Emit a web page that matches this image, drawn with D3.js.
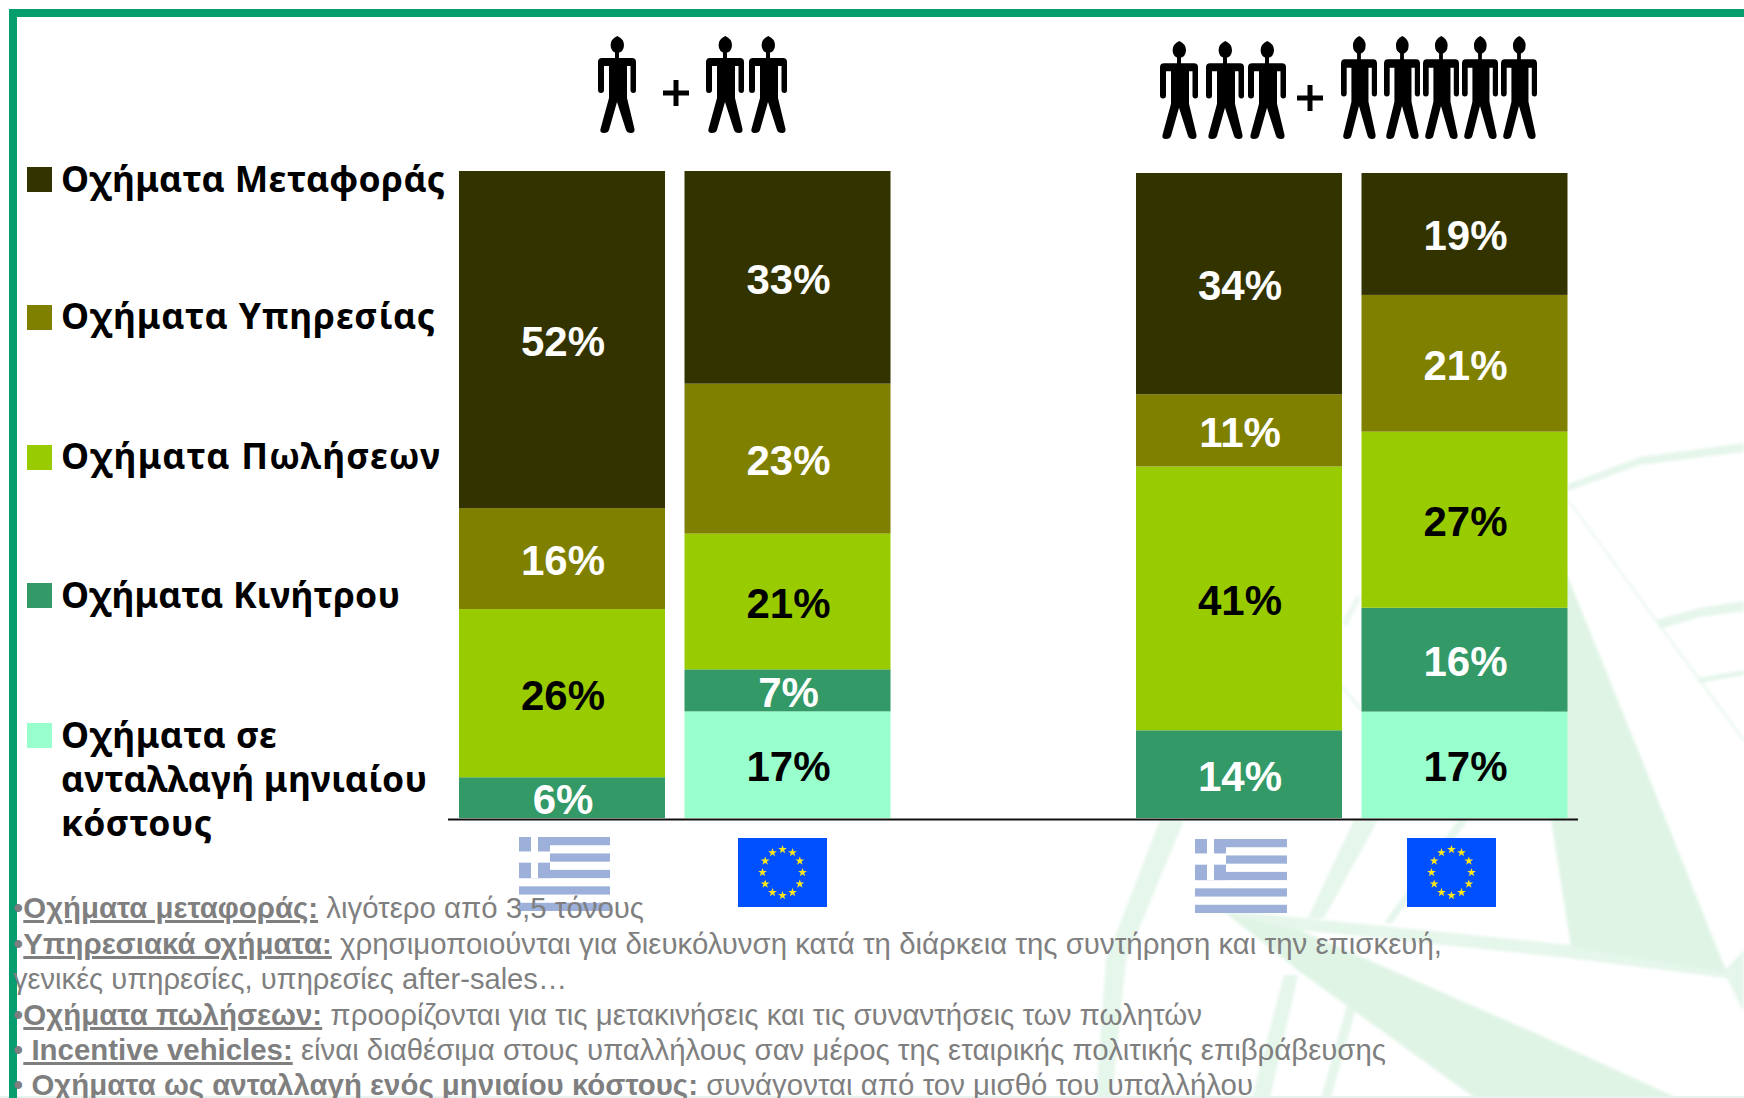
<!DOCTYPE html>
<html lang="el">
<head>
<meta charset="utf-8">
<title>Chart</title>
<script src="https://cdn.jsdelivr.net/npm/d3@7/dist/d3.min.js"></script>
<style>
html,body{margin:0;padding:0;background:#fff;overflow:hidden}
svg{display:block}
.foot{font-family:"Liberation Sans",Arial,sans-serif;font-size:30px;fill:#7f7f7f}
.foot .b{font-weight:bold;text-decoration:underline;text-decoration-thickness:3px}
.leg{font-family:"Noto Sans",sans-serif;font-weight:700;font-size:35.5px;fill:#000}
.val{font-family:"Liberation Sans",Arial,sans-serif;font-weight:700;font-size:42px;text-anchor:middle}
</style>
</head>
<body>
<script>
// ---- data ----
const groups = ["small", "large"];
const regions = ["GR", "EU"];
const transport = [52.1, 32.9, 34.3, 18.9];
const service   = [15.6, 23.2, 11.2, 21.2];
const sales     = [26.0, 21.0, 40.9, 27.3];
const incentive = [ 6.3,  6.5, 13.6, 16.1];
const exchange  = [ 0,   16.5,  0,   16.5];
const seriesKeys = ["transport", "service", "sales", "incentive", "exchange"];
const seriesValues = {transport, service, sales, incentive, exchange};
const seriesColors = ["#333300", "#808000", "#99cc00", "#339966", "#99ffcc"];
const labelColors  = ["#fff", "#fff", "#000", "#fff", "#000"];
const legendLines = [
  ["Οχήματα Μεταφοράς"],
  ["Οχήματα Υπηρεσίας"],
  ["Οχήματα Πωλήσεων"],
  ["Οχήματα Κινήτρου"],
  ["Οχήματα σε", "ανταλλαγή μηνιαίου", "κόστους"]
];
const footLines = [
  {bullet:"•", bold:"Οχήματα μεταφοράς:", rest:" λιγότερο από 3,5 τόνους"},
  {bullet:"•", bold:"Υπηρεσιακά οχήματα:", rest:" χρησιμοποιούνται για διευκόλυνση κατά τη διάρκεια της συντήρηση και την επισκευή,"},
  {bullet:"", bold:"", rest:"γενικές υπηρεσίες, υπηρεσίες after-sales…"},
  {bullet:"•", bold:"Οχήματα πωλήσεων:", rest:" προορίζονται για τις μετακινήσεις και τις συναντήσεις των πωλητών"},
  {bullet:"•", bold:" Incentive vehicles:", rest:" είναι διαθέσιμα στους υπαλλήλους σαν μέρος της εταιρικής πολιτικής επιβράβευσης"},
  {bullet:"•", bold:" Οχήματα ως ανταλλαγή ενός μηνιαίου κόστους:", rest:" συνάγονται από τον μισθό του υπαλλήλου", noUnderline:true}
];

// ---- page ----
const W = 1744, H = 1098;
const svg = d3.select("body").append("svg").attr("width", W).attr("height", H).attr("viewBox", [0,0,W,H]);
svg.append("rect").attr("width", W).attr("height", H).attr("fill", "#fff");
const defs = svg.append("defs");
defs.append("filter").attr("id","soft").attr("x","-5%").attr("y","-5%").attr("width","110%").attr("height","110%")
  .append("feGaussianBlur").attr("stdDeviation",1.4);
defs.append("filter").attr("id","softFlag").attr("x","-5%").attr("y","-5%").attr("width","110%").attr("height","110%")
  .append("feGaussianBlur").attr("stdDeviation",0.7);
defs.append("filter").attr("id","softFig").attr("x","-5%").attr("y","-5%").attr("width","110%").attr("height","110%")
  .append("feGaussianBlur").attr("stdDeviation",0.5);

// faint background emblem
const emblem = svg.append("g").attr("filter","url(#soft)").attr("stroke","none");
const wedges = [
  [[1530,480],[1568,577],[1642,760],[1727,973],[1571,947],[1551,820]],
  [[1223,911],[1300,930],[1544,1037],[1677,1098],[1475,1098],[1300,972]]
];
const ribs = [
  [[1223,910],[1571,945],[1727,968],[1744,950],[1744,1013],[1727,978],[1560,957],[1300,930]],
  [[1160,820],[1184,820],[1126,960],[1112,1098],[1096,1098],[1106,960]],
  [[1354,820],[1378,820],[1324,918],[1308,918]],
  [[1284,975],[1298,975],[1270,1098],[1252,1098]],
  [[1458,820],[1468,820],[1392,923],[1384,923]],
  [[1347,1005],[1357,1005],[1331,1098],[1321,1098]],
  [[1568,484],[1640,457],[1744,443],[1744,452],[1640,465],[1568,491]],
  [[1656,620],[1700,608],[1744,601],[1744,611],[1700,617],[1660,629]],
  [[1697,678],[1744,670],[1744,675],[1700,683]]
];
const hairlines = [
  [[1568,498],[1744,738],[1744,743],[1568,502]],
  [[1342,622],[1356,596],[1362,596],[1346,628]],
  [[1342,684],[1362,708],[1362,713],[1342,689]]
];
const drawPolys = (data, fill) => emblem.append("g").attr("fill",fill).selectAll("path").data(data).join("path")
  .attr("d", d => "M" + d.join("L") + "Z");
drawPolys(hairlines, "#edf8f1");
drawPolys(ribs, "#e5f6eb");
drawPolys(wedges, "#e0f4e6");
svg.append("rect").attr("x",0).attr("y",1096).attr("width",W).attr("height",2).attr("fill","#e6f3ee");

// frame
const frameColor = "#069e6e";
svg.append("rect").attr("x",9).attr("y",9).attr("width",W-9).attr("height",8).attr("fill",frameColor);
svg.append("rect").attr("x",9).attr("y",9).attr("width",8).attr("height",H-9).attr("fill",frameColor);

// scales
const x0 = d3.scaleBand().domain(groups).range([459,1567.5]).paddingInner(1-431.5/677);
const x1 = d3.scaleBand().domain(regions).range([0,x0.bandwidth()]).paddingInner(19.5/225.5);
const yScales = {
  small: d3.scaleLinear().domain([0,1]).range([818,171]),
  large: d3.scaleLinear().domain([0,1]).range([818,173])
};
const barRows = d3.cross(groups, regions).map(([g,r],i) => {
  const row = {group:g, region:r};
  seriesKeys.forEach(k => row[k] = seriesValues[k][i]);
  return row;
});
const stack = d3.stack().keys(seriesKeys.slice().reverse()).offset(d3.stackOffsetExpand);
const stacked = stack(barRows);
const colorOf = d3.scaleOrdinal().domain(seriesKeys).range(seriesColors);
const labelOf = d3.scaleOrdinal().domain(seriesKeys).range(labelColors);

// flags sit under the footnote text
const flagBlue = "#9cb0d9";
function greekFlag(x, y, w, h){
  const g = svg.append("g").attr("transform",`translate(${x},${y})`).attr("filter","url(#softFlag)");
  const s = h/9;
  d3.range(0,9,2).forEach(i => g.append("rect").attr("y",i*s).attr("width",w).attr("height",s).attr("fill",flagBlue));
  g.append("rect").attr("width",31).attr("height",5*s).attr("fill",flagBlue);
  g.append("rect").attr("x",12).attr("width",7).attr("height",5*s).attr("fill","#fff");
  g.append("rect").attr("y",2*s-2).attr("width",31).attr("height",s+3).attr("fill","#fff");
}
function euFlag(x, y, w, h){
  const g = svg.append("g").attr("transform",`translate(${x},${y})`);
  g.append("rect").attr("width",w).attr("height",h).attr("fill","#0050ff");
  const star = d3.symbol().type(d3.symbolStar).size(24)();
  d3.range(12).forEach(i => {
    const a = i*Math.PI/6;
    g.append("path").attr("d",star).attr("fill","#ffe81a")
      .attr("transform",`translate(${w/2+20*Math.sin(a)},${h/2-23*Math.cos(a)})`);
  });
}
greekFlag(519,837,91,74);
greekFlag(1195,839,92,74);
euFlag(738,838,89,69);
euFlag(1407,838,89,69);

// bars
const layers = svg.append("g").selectAll("g").data(stacked).join("g").attr("fill", s => colorOf(s.key));
layers.selectAll("rect").data(s => s.filter(d => d[1] > d[0])).join("rect")
  .attr("x", d => x0(d.data.group) + x1(d.data.region))
  .attr("width", x1.bandwidth())
  .attr("y", d => yScales[d.data.group](d[1]))
  .attr("height", d => yScales[d.data.group](d[0]) - yScales[d.data.group](d[1]));
layers.selectAll("text").data(s => s.filter(d => d[1] > d[0]).map(d => Object.assign(d,{key:s.key}))).join("text")
  .attr("class","val")
  .attr("fill", d => labelOf(d.key))
  .attr("x", d => x0(d.data.group) + x1(d.data.region) + x1.bandwidth()/2 + 1)
  .attr("y", d => (yScales[d.data.group](d[0]) + yScales[d.data.group](d[1]))/2 + 16.5)
  .text(d => Math.round(d.data[d.key]) + "%");

// baseline
svg.append("line").attr("x1",448).attr("x2",1578).attr("y1",819.5).attr("y2",819.5).attr("stroke","#111").attr("stroke-width",2);

// legend
const legendSwatchY = [167,305,445,583,723];
const legendBaselines = [[192],[329],[469],[608],[748,792,836]];
const legendEnds = [[445],[435],[440],[400],[277,427,212]];
seriesKeys.forEach((k,i) => {
  svg.append("rect").attr("x",27).attr("y",legendSwatchY[i]).attr("width",25).attr("height",25).attr("fill",colorOf(k));
  legendLines[i].forEach((t,j) => {
    svg.append("text").attr("class","leg").attr("x",61).attr("y",legendBaselines[i][j])
      .attr("textLength",legendEnds[i][j]-61).attr("lengthAdjust","spacing").text(t);
  });
});

// footnotes
const footBaselines = [918,954,989,1025,1060,1095];
const footEnds = [644,1442,567,1202,1386,1253];
footLines.forEach((l,i) => {
  const t = svg.append("text").attr("class","foot").attr("x",13).attr("y",footBaselines[i])
    .attr("xml:space","preserve").style("white-space","pre")
    .attr("textLength",footEnds[i]-13).attr("lengthAdjust","spacingAndGlyphs");
  if(l.bullet) t.append("tspan").text(l.bullet);
  if(l.bold){
    const b = t.append("tspan").attr("class","b").text(l.bold);
    if(l.noUnderline) b.style("text-decoration","none");
  }
  t.append("tspan").text(l.rest);
});

// pictogram figures above each group
const person = "M4,22 L17,22 L17,15 L21,15 L21,22 L34,22 Q38,22 38,26 L38,54 Q38,57 35.5,57 Q32.5,57 32.5,54 L32.5,30 L29,30 L29,62 L36.5,93 Q37,97 33,97 Q29,97 28,94 L19,66 L11,94 Q10,97 6,97 Q1.5,97 2.5,93 L11,62 L11,30 L6,30 L6,54 Q6,57 3,57 Q0,57 0,54 L0,26 Q0,22 4,22 Z M19.3,0 Q26,3 26,9 Q26,16 19.3,17 Q12.6,16 12.6,9 Q12.6,3 19.3,0 Z";
const figures = [
  [598,36,38,97],[706,36,38,97],[749,36,38,97],
  [1160,41,38,98],[1206,41,38,98],[1248,41,38,98],
  [1341,36,36,103],[1384,36,36,103],[1423,36,36,103],[1462,36,36,103],[1501,36,36,103]
];
svg.append("g").attr("filter","url(#softFig)").selectAll("path").data(figures).join("path").attr("d",person).attr("fill","#000")
  .attr("transform", d => `translate(${d[0]},${d[1]}) scale(${d[2]/38},${d[3]/97})`);
const plusses = [[676,93],[1310,98]];
const plusG = svg.append("g").attr("fill","#000");
plusses.forEach(p => {
  plusG.append("rect").attr("x",p[0]-13).attr("y",p[1]-2.5).attr("width",26).attr("height",5);
  plusG.append("rect").attr("x",p[0]-2.5).attr("y",p[1]-13).attr("width",5).attr("height",26);
});
</script>
</body>
</html>
